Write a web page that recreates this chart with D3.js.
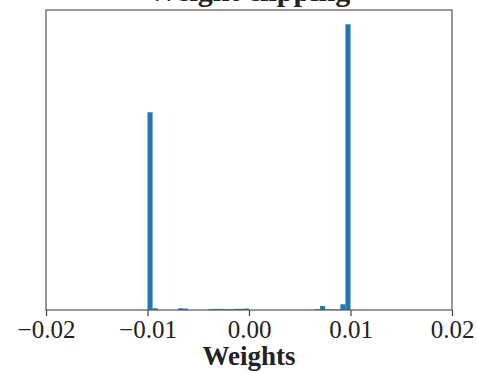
<!DOCTYPE html>
<html>
<head>
<meta charset="utf-8">
<script src="https://cdn.jsdelivr.net/npm/d3@7"></script>
<style>
body { margin: 0; background: #fff; }
text { font-family: "Liberation Serif", "DejaVu Serif", serif; }
</style>
</head>
<body>
<script>
// histogram counts, 40 bins from -0.01 to 0.01
var binStart = -0.01;
var binWidth = 0.0005;
var counts = [692, 6, 0, 0, 0, 0, 6, 5, 0, 0,
	0, 0, 3, 4, 4, 3, 3, 4, 4, 5,
	0, 0, 0, 0, 0, 0, 0, 0, 0, 0,
	0, 0, 0, 3, 14, 2, 2, 2, 20, 1000];
var xTicks = [-0.02, -0.01, 0.00, 0.01, 0.02];
var title = "Weight clipping";
var xLabel = "Weights";

var margin = { top: 10, right: 25, bottom: 63, left: 46 }
	, width = 477 - margin.left - margin.right
	, height = 373 - margin.top - margin.bottom;

var svg = d3.select("body").append("svg")
	.attr("width", 477)
	.attr("height", 373);

var g = svg.append("g")
	.attr("transform", "translate(" + margin.left + "," + margin.top + ")");

var xScale = d3.scaleLinear()
	.domain([-0.02, 0.02])
	.range([0, width]);

var yScale = d3.scaleLinear()
	.domain([0, d3.max(counts) * 1.05])
	.range([height, 0]);

// bars
g.selectAll(".bar")
	.data(counts)
	.enter()
	.append("rect")
	.attr("class", "bar")
	.attr("x", function (d, i) { return xScale(binStart + i * binWidth); })
	.attr("width", function (d, i) { return xScale(binStart + (i + 1) * binWidth) - xScale(binStart + i * binWidth); })
	.attr("y", function (d) { return yScale(d); })
	.attr("height", function (d) { return height - yScale(d); })
	.attr("fill", "#1f77b4");

// frame
g.append("rect")
	.attr("width", width)
	.attr("height", height)
	.attr("fill", "none")
	.attr("stroke", "#555")
	.attr("stroke-width", 1.2);

// x axis
var xAxis = g.append("g")
	.attr("transform", "translate(0," + height + ")")
	.call(d3.axisBottom(xScale)
		.tickValues(xTicks)
		.tickSize(6)
		.tickSizeOuter(0)
		.tickPadding(4)
		.tickFormat(function (d) { return d3.format(".2f")(d).replace("-", "\u2212"); }));
xAxis.select(".domain").remove();
xAxis.selectAll("line").attr("stroke", "#444").attr("stroke-width", 1.2);
xAxis.selectAll("text")
	.attr("font-family", "Liberation Serif, DejaVu Serif, serif")
	.attr("font-size", 25)
	.attr("fill", "#222");

// x label
svg.append("text")
	.attr("x", margin.left + width / 2)
	.attr("y", 365)
	.attr("text-anchor", "middle")
	.attr("font-size", 27)
	.attr("font-weight", "bold")
	.attr("fill", "#222")
	.text(xLabel);

// title (clipped at top, as in the source figure)
svg.append("text")
	.attr("x", margin.left + width / 2)
	.attr("y", 1)
	.attr("text-anchor", "middle")
	.attr("font-size", 30)
	.attr("font-weight", "bold")
	.attr("fill", "#222")
	.text(title);
</script>
</body>
</html>
